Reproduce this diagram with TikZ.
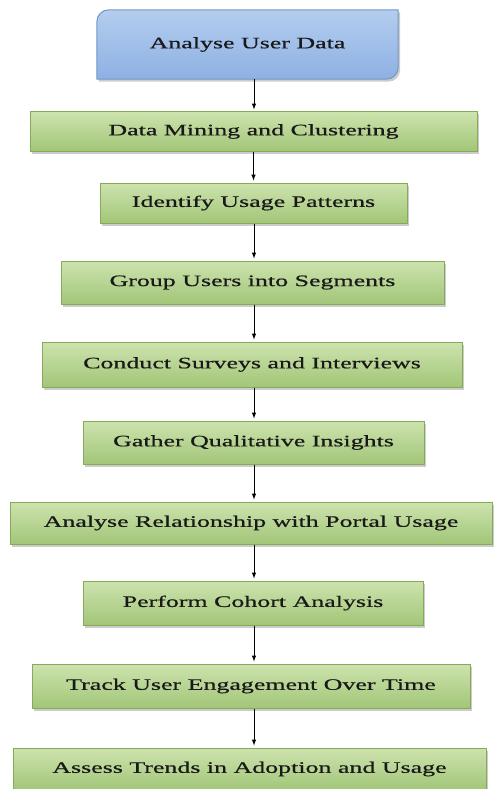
\documentclass[tikz,border=0pt]{standalone}
\usepackage{fontspec}
\setmainfont[FakeStretch=1.62, FakeBold=0.6]{Liberation Serif}
\usetikzlibrary{shadows,backgrounds}

\definecolor{bluetop}{HTML}{B4CDEF}
\definecolor{bluebot}{HTML}{8DB1E3}
\definecolor{blueline}{HTML}{7396C6}
\definecolor{greentop}{HTML}{CDE3AE}
\definecolor{greenbot}{HTML}{A2C678}
\definecolor{greenline}{HTML}{86A95A}

\begin{document}
\begin{tikzpicture}[
    stage/.style={draw=greenline, line width=1pt, top color=greentop, bottom color=greenbot,
        drop shadow={opacity=0.4, shadow xshift=2pt, shadow yshift=-2.5pt},
        text=black!90, font=\fontsize{16pt}{19pt}\selectfont, inner sep=0pt},
    startbox/.style={text=black!90, font=\fontsize{16pt}{19pt}\selectfont, inner sep=0pt},
    flow/.style={->, >=latex, line width=1pt, shorten >=2pt}]

    \useasboundingbox (0,0) rectangle (494pt,-789pt);

    \node[startbox, minimum width=301pt, minimum height=69pt] (analyse) at (247.5pt,-44.5pt) {Analyse User Data};

    \begin{scope}[on background layer]
    \draw[draw=blueline, line width=1pt, top color=bluetop, bottom color=bluebot,
        drop shadow={opacity=0.4, shadow xshift=2pt, shadow yshift=-2.5pt}]
        (analyse.south west) -- ([yshift=-12pt]analyse.north west)
        arc[start angle=180, end angle=90, radius=12pt] -- (analyse.north east)
        -- ([yshift=12pt]analyse.south east)
        arc[start angle=0, end angle=-90, radius=12pt] -- cycle;
    \end{scope}

    \node[stage, minimum width=447pt, minimum height=39pt] (mining) at (253.5pt,-131.5pt) {Data Mining and Clustering};
    \draw[flow] ([xshift=6.5pt]analyse.south) -- ([xshift=0.5pt]mining.north);

    \node[stage, minimum width=307pt, minimum height=40pt] (patterns) at (253.5pt,-203pt) {Identify Usage Patterns};
    \draw[flow] (mining.south -| patterns.north) -- (patterns.north);

    \node[stage, minimum width=383pt, minimum height=43pt] (segments) at (252.5pt,-282.5pt) {Group Users into Segments};
    \draw[flow] ([xshift=0.5pt]patterns.south) -- ([xshift=1.5pt]segments.north);

    \node[stage, minimum width=420pt, minimum height=45pt] (surveys) at (252pt,-364.5pt) {Conduct Surveys and Interviews};
    \draw[flow] ([xshift=1.5pt]segments.south) -- ([xshift=2pt]surveys.north);

    \node[stage, minimum width=341pt, minimum height=43pt] (insights) at (253.5pt,-442.5pt) {Gather Qualitative Insights};
    \draw[flow] ([xshift=2pt]surveys.south) -- ([xshift=0.5pt]insights.north);

    \node[stage, minimum width=482pt, minimum height=42pt] (relation) at (251pt,-523pt) {Analyse Relationship with Portal Usage};
    \draw[flow] ([xshift=0.5pt]insights.south) -- ([xshift=3pt]relation.north);

    \node[stage, minimum width=340pt, minimum height=44pt] (cohort) at (253pt,-603pt) {Perform Cohort Analysis};
    \draw[flow] ([xshift=3pt]relation.south) -- ([xshift=1pt]cohort.north);

    \node[stage, minimum width=438pt, minimum height=44pt] (engage) at (251pt,-686pt) {Track User Engagement Over Time};
    \draw[flow] ([xshift=1pt]cohort.south) -- ([xshift=3pt]engage.north);

    \node[stage, minimum width=473pt, minimum height=42pt] (trends) at (249.5pt,-769pt) {Assess Trends in Adoption and Usage};
    \draw[flow] ([xshift=3pt]engage.south) -- ([xshift=4.5pt]trends.north);

\end{tikzpicture}
\end{document}
